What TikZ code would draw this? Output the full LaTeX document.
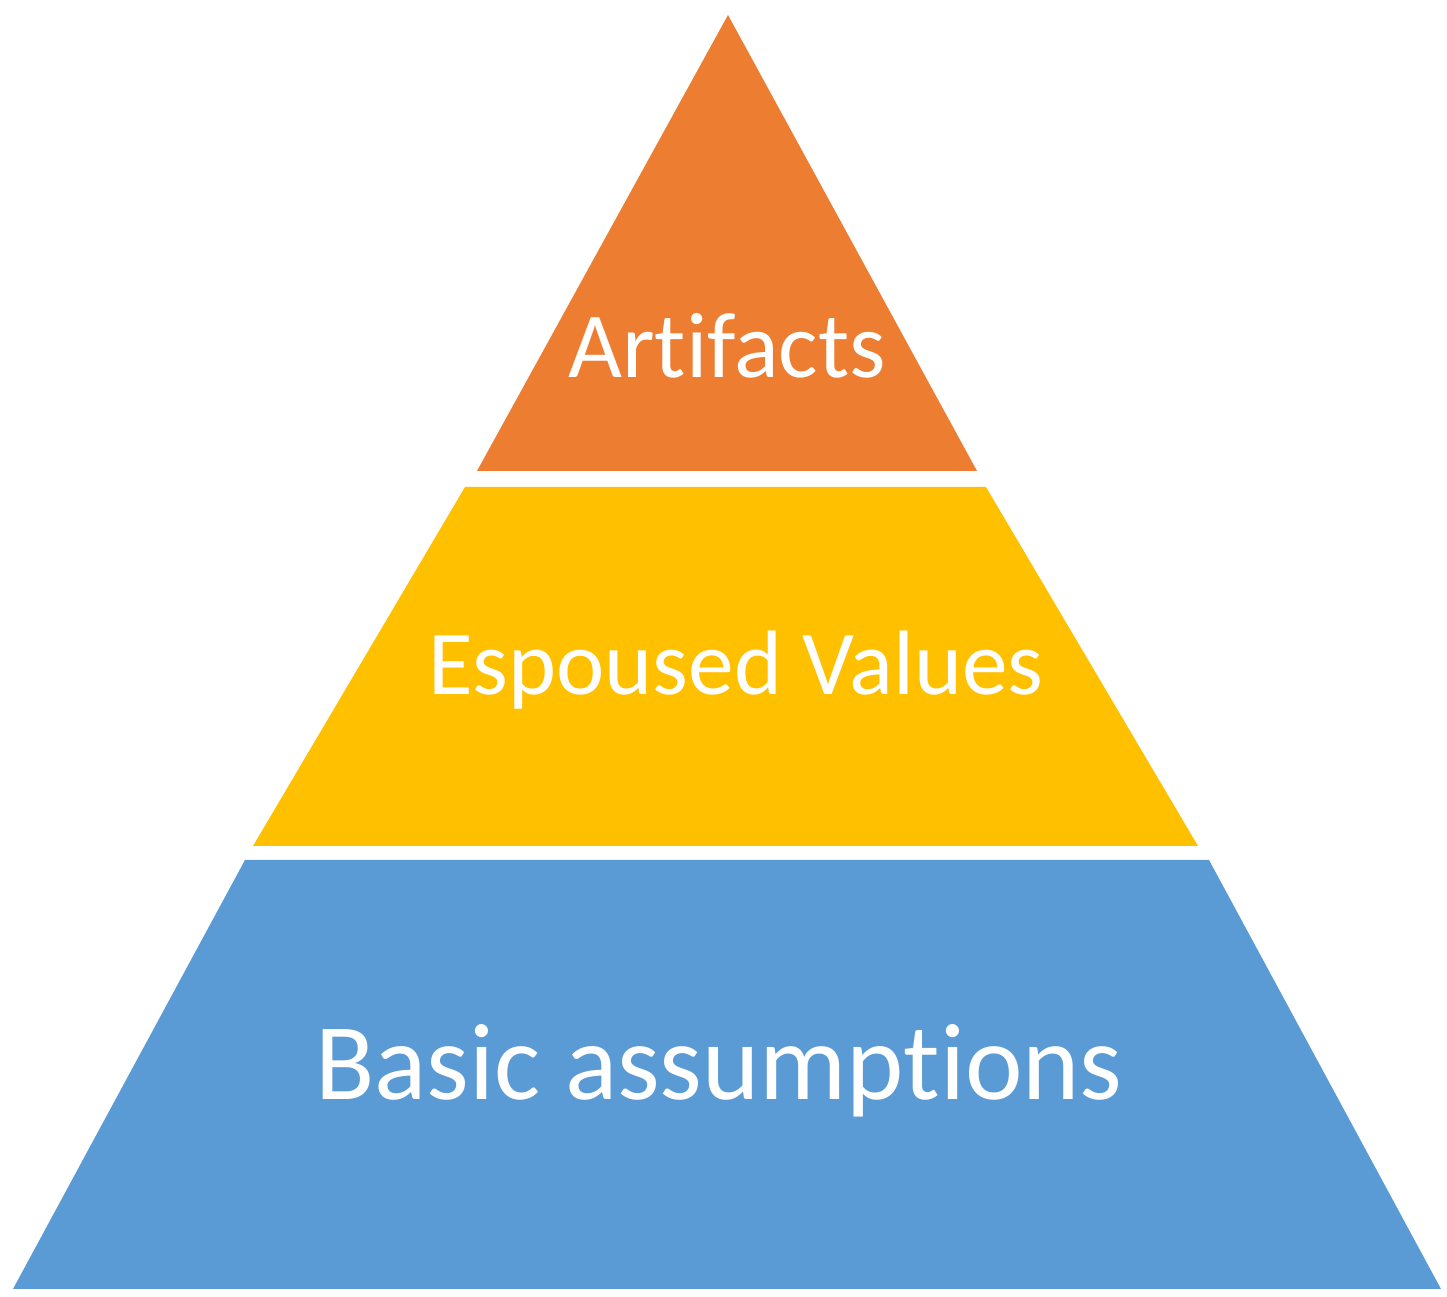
\documentclass[tikz,border=0pt]{standalone}
\usepackage{fontspec}
\setmainfont{Carlito}[Ligatures={NoCommon,NoRare,NoDiscretionary}]
\usetikzlibrary{positioning}
\definecolor{artorange}{HTML}{ED7D31}
\definecolor{valyellow}{HTML}{FFC000}
\definecolor{basblue}{HTML}{5B9BD5}
\tikzset{layertext/.style={text=white,anchor=base,inner sep=0pt}}
\begin{document}
\begin{tikzpicture}[x=0.01cm,y=-0.01cm]
            \useasboundingbox (0,0) rectangle (1447,1297);
            \fill[artorange] (728,15) -- (977,471) -- (477,471) -- cycle;
            \fill[valyellow] (465,487) -- (986,487) -- (1198,846) -- (253,846) -- cycle;
            \fill[basblue] (245,860) -- (1209,860) -- (1441,1289) -- (13,1289) -- cycle;

            \node[layertext,font=\fontsize{26.5}{32}\selectfont] (artifacts) at (727,378) {Artifacts};
            \node[layertext,font=\fontsize{26}{31}\selectfont] (values) at (736,695) {Espoused Values};
            \node[layertext,font=\fontsize{31}{37}\selectfont] (assumptions) at (719,1100) {Basic assumptions};
          \end{tikzpicture}
\end{document}
